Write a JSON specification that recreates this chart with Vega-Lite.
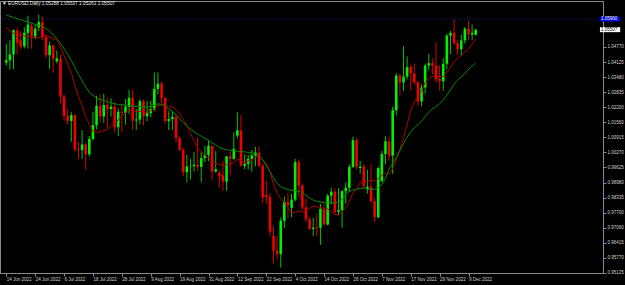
{
"$schema": "https://vega.github.io/schema/vega-lite/v6.json",
"width": 603, "height": 272,
"autosize": {"type": "none"},
"padding": {"left": 0, "top": 1, "right": 22, "bottom": 12},
"background": "#000000",
"config": {"view": {"stroke": "#8a8a8a", "strokeWidth": 1}, "font": "Liberation Sans",
"axis": {"labelOverlap": false, "labelFlush": false, "labelBound": false}},
"title": {"text": "▼ EURUSD,Daily  1.05288 1.05537 1.05261 1.05507", "anchor": "start", "frame": "group", "orient": "top", "offset": 0, "dy": 9, "baseline": "alphabetic", "fontSize": 4.8, "fontWeight": "normal", "color": "#e8e8e8", "dx": 2},
"datasets": {
"k": [
{"d":"06-14","i":0,"o":1.0410,"h":1.0490,"l":1.0397,"c":1.0420,"m1":1.0558,"m2":1.0613},
{"d":"06-15","i":1,"o":1.0420,"h":1.0505,"l":1.0380,"c":1.0445,"m1":1.0545,"m2":1.0608},
{"d":"06-16","i":2,"o":1.0445,"h":1.0552,"l":1.0382,"c":1.0548,"m1":1.0535,"m2":1.0603},
{"d":"06-17","i":3,"o":1.0548,"h":1.0560,"l":1.0445,"c":1.0495,"m1":1.0530,"m2":1.0598},
{"d":"06-20","i":4,"o":1.0505,"h":1.0545,"l":1.0467,"c":1.0478,"m1":1.0527,"m2":1.0593},
{"d":"06-21","i":5,"o":1.0480,"h":1.0560,"l":1.0470,"c":1.0537,"m1":1.0524,"m2":1.0588},
{"d":"06-22","i":6,"o":1.0537,"h":1.0610,"l":1.0470,"c":1.0572,"m1":1.0521,"m2":1.0583},
{"d":"06-23","i":7,"o":1.0567,"h":1.0580,"l":1.0470,"c":1.0522,"m1":1.0518,"m2":1.0578},
{"d":"06-24","i":8,"o":1.0522,"h":1.0570,"l":1.0510,"c":1.0555,"m1":1.0516,"m2":1.0573},
{"d":"06-27","i":9,"o":1.0560,"h":1.0615,"l":1.0545,"c":1.0583,"m1":1.05155,"m2":1.0570},
{"d":"06-28","i":10,"o":1.0583,"h":1.0606,"l":1.0505,"c":1.0518,"m1":1.05253,"m2":1.0565},
{"d":"06-29","i":11,"o":1.0518,"h":1.0530,"l":1.0430,"c":1.0442,"m1":1.05250,"m2":1.0555},
{"d":"06-30","i":12,"o":1.0442,"h":1.0500,"l":1.0382,"c":1.0484,"m1":1.05186,"m2":1.0544},
{"d":"07-01","i":13,"o":1.0484,"h":1.0486,"l":1.0365,"c":1.0425,"m1":1.05116,"m2":1.0530},
{"d":"07-04","i":14,"o":1.0415,"h":1.0462,"l":1.0407,"c":1.0428,"m1":1.05066,"m2":1.0512},
{"d":"07-05","i":15,"o":1.0426,"h":1.0445,"l":1.0236,"c":1.0265,"m1":1.04794,"m2":1.0493},
{"d":"07-06","i":16,"o":1.0265,"h":1.0276,"l":1.0162,"c":1.0182,"m1":1.04404,"m2":1.0470},
{"d":"07-07","i":17,"o":1.0182,"h":1.0212,"l":1.0144,"c":1.0161,"m1":1.04043,"m2":1.0445},
{"d":"07-08","i":18,"o":1.0161,"h":1.0200,"l":1.0072,"c":1.0186,"m1":1.03674,"m2":1.0420},
{"d":"07-11","i":19,"o":1.0186,"h":1.0190,"l":1.0030,"c":1.0039,"m1":1.03130,"m2":1.0390},
{"d":"07-12","i":20,"o":1.0040,"h":1.0070,"l":0.9999,"c":1.0037,"m1":1.02649,"m2":1.0360},
{"d":"07-13","i":21,"o":1.0037,"h":1.0122,"l":0.9998,"c":1.0061,"m1":1.02268,"m2":1.0332},
{"d":"07-14","i":22,"o":1.0061,"h":1.0069,"l":0.9952,"c":1.0019,"m1":1.01803,"m2":1.0305},
{"d":"07-15","i":23,"o":1.0019,"h":1.0097,"l":1.0008,"c":1.0084,"m1":1.01462,"m2":1.0283},
{"d":"07-18","i":24,"o":1.0084,"h":1.0200,"l":1.0080,"c":1.0143,"m1":1.01177,"m2":1.0270},
{"d":"07-19","i":25,"o":1.0143,"h":1.0269,"l":1.0125,"c":1.0226,"m1":1.01138,"m2":1.0260},
{"d":"07-20","i":26,"o":1.0226,"h":1.0273,"l":1.0154,"c":1.0180,"m1":1.01136,"m2":1.0252},
{"d":"07-21","i":27,"o":1.0180,"h":1.0278,"l":1.0153,"c":1.0229,"m1":1.01204,"m2":1.0248},
{"d":"07-22","i":28,"o":1.0229,"h":1.0258,"l":1.0130,"c":1.0212,"m1":1.01230,"m2":1.0243},
{"d":"07-25","i":29,"o":1.0212,"h":1.0258,"l":1.0180,"c":1.0222,"m1":1.01413,"m2":1.0238},
{"d":"07-26","i":30,"o":1.0222,"h":1.0242,"l":1.0110,"c":1.0134,"m1":1.01510,"m2":1.0234},
{"d":"07-27","i":31,"o":1.0134,"h":1.0215,"l":1.0096,"c":1.0200,"m1":1.01649,"m2":1.0232},
{"d":"07-28","i":32,"o":1.0200,"h":1.0235,"l":1.0113,"c":1.0196,"m1":1.01826,"m2":1.0230},
{"d":"07-29","i":33,"o":1.0196,"h":1.0254,"l":1.0145,"c":1.0222,"m1":1.01964,"m2":1.0228},
{"d":"08-01","i":34,"o":1.0222,"h":1.0294,"l":1.0190,"c":1.0260,"m1":1.02081,"m2":1.0226},
{"d":"08-02","i":35,"o":1.0260,"h":1.0294,"l":1.0123,"c":1.0163,"m1":1.02018,"m2":1.0224},
{"d":"08-03","i":36,"o":1.0163,"h":1.0212,"l":1.0123,"c":1.0167,"m1":1.02005,"m2":1.0223},
{"d":"08-04","i":37,"o":1.0167,"h":1.0254,"l":1.0147,"c":1.0245,"m1":1.02021,"m2":1.0222},
{"d":"08-05","i":38,"o":1.0245,"h":1.0253,"l":1.0141,"c":1.0181,"m1":1.01990,"m2":1.0221},
{"d":"08-08","i":39,"o":1.0181,"h":1.0247,"l":1.0160,"c":1.0195,"m1":1.01963,"m2":1.0220},
{"d":"08-09","i":40,"o":1.0195,"h":1.0248,"l":1.0178,"c":1.0211,"m1":1.02040,"m2":1.0222},
{"d":"08-10","i":41,"o":1.0211,"h":1.0368,"l":1.0202,"c":1.0298,"m1":1.02138,"m2":1.0228},
{"d":"08-11","i":42,"o":1.0298,"h":1.0368,"l":1.0275,"c":1.0320,"m1":1.02262,"m2":1.0234},
{"d":"08-12","i":43,"o":1.0320,"h":1.0330,"l":1.0236,"c":1.0259,"m1":1.02299,"m2":1.0232},
{"d":"08-15","i":44,"o":1.0259,"h":1.0262,"l":1.0150,"c":1.0161,"m1":1.02200,"m2":1.0226},
{"d":"08-16","i":45,"o":1.0161,"h":1.0203,"l":1.0122,"c":1.0169,"m1":1.02206,"m2":1.0212},
{"d":"08-17","i":46,"o":1.0169,"h":1.0202,"l":1.0123,"c":1.0178,"m1":1.02217,"m2":1.0202},
{"d":"08-18","i":47,"o":1.0178,"h":1.0190,"l":1.0070,"c":1.0088,"m1":1.02060,"m2":1.0188},
{"d":"08-19","i":48,"o":1.0088,"h":1.0095,"l":1.0032,"c":1.0038,"m1":1.01917,"m2":1.0170},
{"d":"08-22","i":49,"o":1.0038,"h":1.0045,"l":0.9926,"c":0.9942,"m1":1.01664,"m2":1.0155},
{"d":"08-23","i":50,"o":0.9942,"h":1.0017,"l":0.9900,"c":0.9967,"m1":1.01420,"m2":1.0140},
{"d":"08-24","i":51,"o":0.9967,"h":0.9999,"l":0.9911,"c":0.9968,"m1":1.01090,"m2":1.0126},
{"d":"08-25","i":52,"o":0.9968,"h":1.0028,"l":0.9945,"c":0.9974,"m1":1.00744,"m2":1.0115},
{"d":"08-26","i":53,"o":0.9974,"h":1.0090,"l":0.9947,"c":0.9965,"m1":1.00450,"m2":1.0105},
{"d":"08-29","i":54,"o":0.9965,"h":1.0028,"l":0.9900,"c":1.0002,"m1":1.00291,"m2":1.0096},
{"d":"08-30","i":55,"o":1.0002,"h":1.0054,"l":0.9985,"c":1.0016,"m1":1.00138,"m2":1.0088},
{"d":"08-31","i":56,"o":1.0016,"h":1.0079,"l":0.9990,"c":1.0055,"m1":1.00015,"m2":1.0078},
{"d":"09-01","i":57,"o":1.0055,"h":1.0055,"l":0.9910,"c":0.9945,"m1":0.99872,"m2":1.0068},
{"d":"09-02","i":58,"o":0.9945,"h":1.0033,"l":0.9940,"c":0.9955,"m1":0.99789,"m2":1.0058},
{"d":"09-05","i":59,"o":0.9940,"h":0.9950,"l":0.9876,"c":0.9925,"m1":0.99772,"m2":1.0048},
{"d":"09-06","i":60,"o":0.9930,"h":0.9990,"l":0.9863,"c":0.9902,"m1":0.99707,"m2":1.0042},
{"d":"09-07","i":61,"o":0.9902,"h":1.0012,"l":0.9864,"c":1.0010,"m1":0.99749,"m2":1.0038},
{"d":"09-08","i":62,"o":1.0010,"h":1.0030,"l":0.9929,"c":0.9999,"m1":0.99774,"m2":1.0036},
{"d":"09-09","i":63,"o":0.9999,"h":1.0112,"l":0.9995,"c":1.0042,"m1":0.99851,"m2":1.0034},
{"d":"09-12","i":64,"o":1.0098,"h":1.0198,"l":1.0087,"c":1.0121,"m1":0.99970,"m2":1.0032},
{"d":"09-13","i":65,"o":1.0121,"h":1.0187,"l":0.9966,"c":0.9970,"m1":0.99924,"m2":1.0030},
{"d":"09-14","i":66,"o":0.9970,"h":1.0019,"l":0.9955,"c":0.9978,"m1":0.99847,"m2":1.0029},
{"d":"09-15","i":67,"o":0.9978,"h":1.0017,"l":0.9955,"c":0.9999,"m1":0.99901,"m2":1.0027},
{"d":"09-16","i":68,"o":0.9999,"h":1.0037,"l":0.9944,"c":1.0014,"m1":0.99960,"m2":1.0024},
{"d":"09-19","i":69,"o":1.0014,"h":1.0050,"l":0.9968,"c":1.0026,"m1":1.00061,"m2":1.0020},
{"d":"09-20","i":70,"o":1.0026,"h":1.0051,"l":0.9965,"c":0.9970,"m1":1.00129,"m2":1.0010},
{"d":"09-21","i":71,"o":0.9970,"h":0.9978,"l":0.9810,"c":0.9834,"m1":0.99953,"m2":0.9995},
{"d":"09-22","i":72,"o":0.9845,"h":0.9907,"l":0.9807,"c":0.9836,"m1":0.99790,"m2":0.9970},
{"d":"09-23","i":73,"o":0.9836,"h":0.9852,"l":0.9668,"c":0.9689,"m1":0.99437,"m2":0.9945},
{"d":"09-26","i":74,"o":0.9670,"h":0.9710,"l":0.9553,"c":0.9607,"m1":0.98923,"m2":0.9918},
{"d":"09-27","i":75,"o":0.9607,"h":0.9670,"l":0.9570,"c":0.9593,"m1":0.98546,"m2":0.9895},
{"d":"09-28","i":76,"o":0.9593,"h":0.9748,"l":0.9535,"c":0.9735,"m1":0.98303,"m2":0.9880},
{"d":"09-29","i":77,"o":0.9735,"h":0.9838,"l":0.9704,"c":0.9815,"m1":0.98119,"m2":0.9873},
{"d":"09-30","i":78,"o":0.9815,"h":0.9854,"l":0.9748,"c":0.9801,"m1":0.97906,"m2":0.9868},
{"d":"10-03","i":79,"o":0.9790,"h":0.9850,"l":0.9750,"c":0.9825,"m1":0.97705,"m2":0.9865},
{"d":"10-04","i":80,"o":0.9825,"h":0.9999,"l":0.9817,"c":0.9985,"m1":0.97720,"m2":0.9863},
{"d":"10-05","i":81,"o":0.9985,"h":0.9996,"l":0.9836,"c":0.9885,"m1":0.97771,"m2":0.9861},
{"d":"10-06","i":82,"o":0.9885,"h":0.9895,"l":0.9782,"c":0.9792,"m1":0.97727,"m2":0.9855},
{"d":"10-07","i":83,"o":0.9792,"h":0.9830,"l":0.9730,"c":0.9741,"m1":0.97779,"m2":0.9843},
{"d":"10-10","i":84,"o":0.9741,"h":0.9750,"l":0.9697,"c":0.9700,"m1":0.97872,"m2":0.9832},
{"d":"10-11","i":85,"o":0.9700,"h":0.9748,"l":0.9670,"c":0.9705,"m1":0.97984,"m2":0.9823},
{"d":"10-12","i":86,"o":0.9708,"h":0.9765,"l":0.9668,"c":0.9705,"m1":0.97954,"m2":0.9818},
{"d":"10-13","i":87,"o":0.9705,"h":0.9807,"l":0.9632,"c":0.9785,"m1":0.97924,"m2":0.9815},
{"d":"10-14","i":88,"o":0.9785,"h":0.9809,"l":0.9715,"c":0.9719,"m1":0.97842,"m2":0.9812},
{"d":"10-17","i":89,"o":0.9719,"h":0.9850,"l":0.9715,"c":0.9842,"m1":0.97859,"m2":0.9811},
{"d":"10-18","i":90,"o":0.9842,"h":0.9875,"l":0.9806,"c":0.9859,"m1":0.97733,"m2":0.9811},
{"d":"10-19","i":91,"o":0.9859,"h":0.9872,"l":0.9766,"c":0.9773,"m1":0.97621,"m2":0.9811},
{"d":"10-20","i":92,"o":0.9773,"h":0.9875,"l":0.9758,"c":0.9780,"m1":0.97609,"m2":0.9815},
{"d":"10-21","i":93,"o":0.9780,"h":0.9866,"l":0.9705,"c":0.9861,"m1":0.97729,"m2":0.9825},
{"d":"10-24","i":94,"o":0.9861,"h":0.9898,"l":0.9808,"c":0.9876,"m1":0.97905,"m2":0.9848},
{"d":"10-25","i":95,"o":0.9876,"h":0.9976,"l":0.9859,"c":0.9965,"m1":0.98165,"m2":0.9860},
{"d":"10-26","i":96,"o":0.9965,"h":1.0094,"l":0.9960,"c":1.0079,"m1":0.98539,"m2":0.9866},
{"d":"10-27","i":97,"o":1.0079,"h":1.0088,"l":0.9954,"c":0.9965,"m1":0.98719,"m2":0.9870},
{"d":"10-28","i":98,"o":0.9960,"h":0.9990,"l":0.9936,"c":0.9966,"m1":0.98966,"m2":0.9873},
{"d":"10-31","i":99,"o":0.9966,"h":0.9977,"l":0.9871,"c":0.9882,"m1":0.99006,"m2":0.9875},
{"d":"11-01","i":100,"o":0.9870,"h":0.9953,"l":0.9851,"c":0.9880,"m1":0.99027,"m2":0.9872},
{"d":"11-02","i":101,"o":0.9880,"h":0.9976,"l":0.9813,"c":0.9818,"m1":0.99072,"m2":0.9868},
{"d":"11-03","i":102,"o":0.9818,"h":0.9832,"l":0.9730,"c":0.9750,"m1":0.99042,"m2":0.9870},
{"d":"11-04","i":103,"o":0.9750,"h":0.9966,"l":0.9746,"c":0.9960,"m1":0.99141,"m2":0.9875},
{"d":"11-07","i":104,"o":0.9905,"h":1.0034,"l":0.9900,"c":1.0020,"m1":0.99285,"m2":0.9890},
{"d":"11-08","i":105,"o":1.0020,"h":1.0096,"l":0.9976,"c":1.0074,"m1":0.99394,"m2":0.9915},
{"d":"11-09","i":106,"o":1.0074,"h":1.0094,"l":0.9992,"c":1.0013,"m1":0.99328,"m2":0.9955},
{"d":"11-10","i":107,"o":1.0013,"h":1.0222,"l":0.9935,"c":1.0207,"m1":0.99570,"m2":0.9980},
{"d":"11-11","i":108,"o":1.0207,"h":1.0365,"l":1.0185,"c":1.0355,"m1":0.99959,"m2":1.0005},
{"d":"11-14","i":109,"o":1.0355,"h":1.0364,"l":1.0270,"c":1.0325,"m1":1.00402,"m2":1.0035},
{"d":"11-15","i":110,"o":1.0325,"h":1.0480,"l":1.0289,"c":1.0350,"m1":1.00872,"m2":1.0065},
{"d":"11-16","i":111,"o":1.0350,"h":1.0436,"l":1.0338,"c":1.0391,"m1":1.01445,"m2":1.0092},
{"d":"11-17","i":112,"o":1.0391,"h":1.0399,"l":1.0290,"c":1.0363,"m1":1.02058,"m2":1.0115},
{"d":"11-18","i":113,"o":1.0363,"h":1.0407,"l":1.0315,"c":1.0326,"m1":1.02424,"m2":1.0132},
{"d":"11-21","i":114,"o":1.0326,"h":1.0332,"l":1.0225,"c":1.0244,"m1":1.02648,"m2":1.0145},
{"d":"11-22","i":115,"o":1.0244,"h":1.0318,"l":1.0223,"c":1.0304,"m1":1.02878,"m2":1.0160},
{"d":"11-23","i":116,"o":1.0304,"h":1.0405,"l":1.0278,"c":1.0397,"m1":1.03262,"m2":1.0180},
{"d":"11-24","i":117,"o":1.0397,"h":1.0447,"l":1.0378,"c":1.0408,"m1":1.03463,"m2":1.0198},
{"d":"11-25","i":118,"o":1.0408,"h":1.0429,"l":1.0360,"c":1.0397,"m1":1.03505,"m2":1.0212},
{"d":"11-28","i":119,"o":1.0397,"h":1.0497,"l":1.0325,"c":1.0340,"m1":1.03520,"m2":1.0222},
{"d":"11-29","i":120,"o":1.0340,"h":1.0400,"l":1.0290,"c":1.0330,"m1":1.03500,"m2":1.0235},
{"d":"11-30","i":121,"o":1.0330,"h":1.0429,"l":1.0290,"c":1.0405,"m1":1.03514,"m2":1.0250},
{"d":"12-01","i":122,"o":1.0405,"h":1.0533,"l":1.0381,"c":1.0525,"m1":1.03676,"m2":1.0272},
{"d":"12-02","i":123,"o":1.0525,"h":1.0545,"l":1.0446,"c":1.0537,"m1":1.03887,"m2":1.0293},
{"d":"12-05","i":124,"o":1.0537,"h":1.0594,"l":1.0485,"c":1.0493,"m1":1.04136,"m2":1.0318},
{"d":"12-06","i":125,"o":1.0493,"h":1.0505,"l":1.0443,"c":1.0467,"m1":1.04299,"m2":1.0335},
{"d":"12-07","i":126,"o":1.0467,"h":1.0529,"l":1.0443,"c":1.0505,"m1":1.04407,"m2":1.0350},
{"d":"12-08","i":127,"o":1.0505,"h":1.0562,"l":1.0490,"c":1.0555,"m1":1.04554,"m2":1.0365},
{"d":"12-09","i":128,"o":1.0555,"h":1.0588,"l":1.0507,"c":1.0530,"m1":1.04687,"m2":1.0382},
{"d":"12-12","i":129,"o":1.0530,"h":1.0573,"l":1.0506,"c":1.0537,"m1":1.04884,"m2":1.0395},
{"d":"12-13","i":130,"o":1.05288,"h":1.05537,"l":1.05261,"c":1.05507,"m1":1.05105,"m2":1.0408}
],
"lv": [{"p": 1.0596, "t": "1.05960", "bg": "blue"}, {"p": 1.05507, "t": "1.05507", "bg": "white"}]
},
"layer": [
{
"data": {"name": "k"},
"mark": {"type": "rule", "strokeWidth": 1, "clip": true},
"encoding": {
"x": {"field": "i", "type": "quantitative", "scale": {"domain": [-0.354, 163.86], "nice": false, "zero": false}, "axis": {
"orient": "bottom", "values": [0,8,16,24,32,40,48,56,64,72,80,88,96,104,112,120,128], "tickCount": 200,
"labelExpr": "['14 Jun 2022','24 Jun 2022','6 Jul 2022','18 Jul 2022','28 Jul 2022','9 Aug 2022','19 Aug 2022','31 Aug 2022','12 Sep 2022','22 Sep 2022','4 Oct 2022','14 Oct 2022','26 Oct 2022','7 Nov 2022','17 Nov 2022','29 Nov 2022','9 Dec 2022'][round(datum.value/8)]",
"domainColor": "#8a8a8a", "tickColor": "#8a8a8a", "tickSize": 3, "labelColor": "#d0d0d0", "labelFontSize": 4.5,
"labelAlign": "left", "labelBaseline": "middle", "labelPadding": 3, "labelOffset": 0, "grid": false, "title": null,
"labelOverlap": false, "labelFlush": false}},
"y": {"field": "l", "type": "quantitative", "scale": {"domain": [0.9512, 1.0673], "nice": false, "zero": false}, "axis": {
"orient": "right", "values": [1.0477,1.04125,1.0348,1.02835,1.022,1.0156,1.00915,1.0027,0.99625,0.9898,0.98335,0.977,0.9706,0.96415,0.9577,0.95125], "tickCount": 200,
"format": ".5f", "domainColor": "#8a8a8a", "tickColor": "#8a8a8a", "tickSize": 3, "labelColor": "#d0d0d0", "labelFontSize": 4.5,
"labelAlign": "left", "labelBaseline": "middle", "labelPadding": 1, "grid": false, "title": null, "labelOverlap": false, "labelFlush": false}},
"y2": {"field": "h"},
"color": {"condition": {"test": "datum.c >= datum.o", "value": "#00c400"}, "value": "#d80000"}
}
},
{
"data": {"name": "lv"},
"transform": [{"filter": "datum.bg == 'blue'"}],
"mark": {"type": "rule", "color": "#1c1c96", "strokeWidth": 1, "strokeDash": [1, 2]},
"encoding": {
"y": {"field": "p", "type": "quantitative"}
}
},
{
"data": {"name": "k"},
"mark": {"type": "bar", "width": 2.6, "clip": true, "orient": "vertical"},
"encoding": {
"x": {"field": "i", "type": "quantitative"},
"y": {"field": "o", "type": "quantitative"},
"y2": {"field": "c"},
"color": {"condition": {"test": "datum.c >= datum.o", "value": "#00f000"}, "value": "#f00000"}
}
},
{
"data": {"name": "k"},
"mark": {"type": "line", "color": "#b00000", "strokeWidth": 1, "clip": true},
"encoding": {
"x": {"field": "i", "type": "quantitative"},
"y": {"field": "m1", "type": "quantitative"}
}
},
{
"data": {"name": "k"},
"mark": {"type": "line", "color": "#008c00", "strokeWidth": 1, "clip": true},
"encoding": {
"x": {"field": "i", "type": "quantitative"},
"y": {"field": "m2", "type": "quantitative"}
}
},
{
"data": {"name": "lv"},
"mark": {"type": "rule", "strokeWidth": 5},
"encoding": {
"x": {"datum": 164.4, "type": "quantitative"},
"x2": {"datum": 170},
"y": {"field": "p", "type": "quantitative"},
"color": {"field": "bg", "type": "nominal", "scale": {"domain": ["blue", "white"], "range": ["#0000e0", "#ffffff"]}, "legend": null}
}
},
{
"data": {"name": "lv"},
"mark": {"type": "text", "align": "left", "baseline": "middle", "fontSize": 4.5, "dx": 1},
"encoding": {
"x": {"datum": 164.4, "type": "quantitative"},
"y": {"field": "p", "type": "quantitative"},
"text": {"field": "t"},
"color": {"field": "bg", "type": "nominal", "scale": {"domain": ["blue", "white"], "range": ["#ffffff", "#000000"]}, "legend": null}
}
}
],
"resolve": {"scale": {"color": "independent"}}
}
